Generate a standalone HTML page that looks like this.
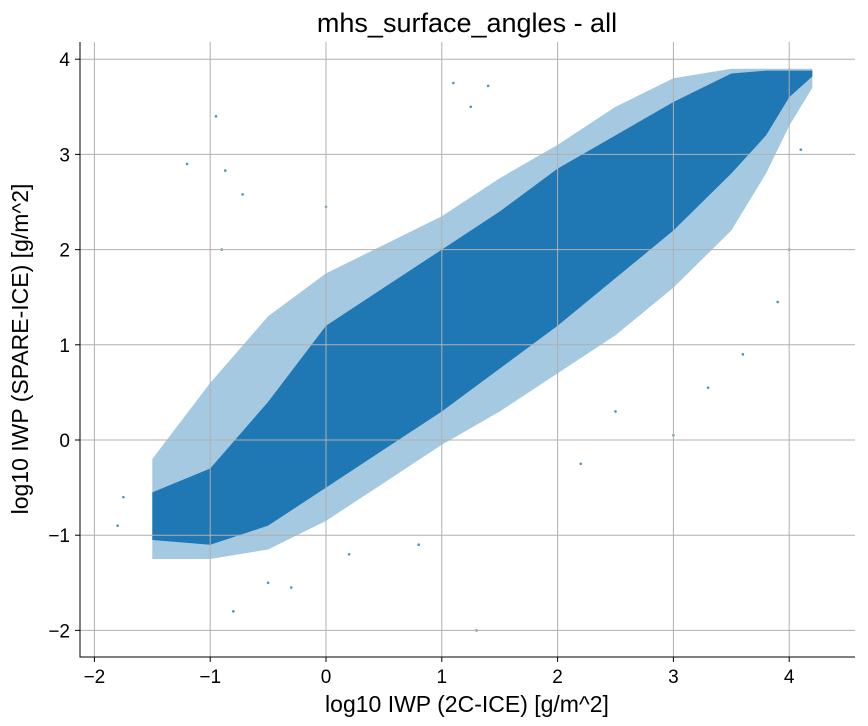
<!DOCTYPE html>
<html><head><meta charset="utf-8"><style>
body{margin:0;background:#fff;}
svg{display:block;font-family:"Liberation Sans","DejaVu Sans",sans-serif;}
</style></head><body>
<svg id="chart" width="868" height="726"></svg>
<script>
const xTicks=[-2,-1,0,1,2,3,4];
const yTicks=[-2,-1,0,1,2,3,4];
const bandX=[-1.5,-1.0,-0.5,0,0.5,1,1.5,2,2.5,3,3.5,3.8,4.0,4.2];
const coreLow=[-1.05,-1.1,-0.9,-0.5,-0.1,0.3,0.75,1.2,1.7,2.2,2.8,3.2,3.6,3.82];
const coreHigh=[-0.55,-0.3,0.4,1.2,1.6,2.0,2.4,2.85,3.2,3.55,3.85,3.88,3.88,3.88];
const haloLow=[-1.25,-1.25,-1.15,-0.85,-0.45,-0.05,0.3,0.7,1.1,1.6,2.2,2.8,3.3,3.7];
const haloHigh=[-0.2,0.6,1.3,1.75,2.05,2.35,2.75,3.1,3.5,3.8,3.9,3.9,3.9,3.9];
const outX=[-0.95,-1.2,-0.87,-0.72,1.1,1.4,1.25,3.0,3.3,2.2,1.3,-0.8,-0.3,-1.8,-1.75,0.8,4.0,3.9,4.1,0.2,-0.5,-0.9,0.0,2.5,3.6];
const outY=[3.4,2.9,2.83,2.58,3.75,3.72,3.5,0.05,0.55,-0.25,-2.0,-1.8,-1.55,-0.9,-0.6,-1.1,2.0,1.45,3.05,-1.2,-1.5,2.0,2.45,0.3,0.9];
const sx=v=>326+v*115.8;
const sy=v=>440-v*95.2;
const NS='http://www.w3.org/2000/svg';
const svg=document.getElementById('chart');
function mk(t,a,p){const e=document.createElementNS(NS,t);for(const k in a)e.setAttribute(k,a[k]);(p||svg).appendChild(e);return e;}
function band(lo,hi,fill,name){
  let pts=[];
  for(let i=0;i<bandX.length;i++)pts.push(sx(bandX[i])+','+sy(hi[i]));
  for(let i=bandX.length-1;i>=0;i--)pts.push(sx(bandX[i])+','+sy(lo[i]));
  const p=mk('polygon',{points:pts.join(' '),fill:fill});
  
  
}
band(haloLow,haloHigh,'rgba(31,119,180,0.4)','scatter-halo');
band(coreLow,coreHigh,'#1f77b4','scatter-core');
for(let i=0;i<outX.length;i++){
  const c=mk('circle',{cx:sx(outX[i]),cy:sy(outY[i]),r:1.3,fill:'#1f77b4',opacity:0.8});
  
  
}
xTicks.forEach(v=>{
  const g=mk('line',{x1:sx(v),x2:sx(v),y1:42,y2:657,stroke:'#b0b0b0','stroke-width':1});
  
  
  mk('line',{x1:sx(v),x2:sx(v),y1:657,y2:662,stroke:'#000'});
  const t=mk('text',{x:sx(v),y:683,'text-anchor':'middle','font-size':19});
  t.textContent=(v<0?'\u2212'+(-v):v);
  
  
});
yTicks.forEach(v=>{
  const g=mk('line',{x1:80,x2:855,y1:sy(v),y2:sy(v),stroke:'#b0b0b0','stroke-width':1});
  
  
  mk('line',{x1:75,x2:80,y1:sy(v),y2:sy(v),stroke:'#000'});
  const t=mk('text',{x:70,y:sy(v)+7,'text-anchor':'end','font-size':19});
  t.textContent=(v<0?'\u2212'+(-v):v);
  
  
});
</script>
<svg width="868" height="726" style="position:absolute;left:0;top:0">
<line x1="80" y1="42" x2="80" y2="657.5" stroke="#000"/>
<line x1="79.5" y1="657" x2="855" y2="657" stroke="#000"/>
<text x="467" y="32" text-anchor="middle" font-size="27" font-family="Liberation Sans, DejaVu Sans, sans-serif">mhs_surface_angles - all</text>
<text x="467" y="712" text-anchor="middle" font-size="23" font-family="Liberation Sans, DejaVu Sans, sans-serif">log10 IWP (2C-ICE) [g/m^2]</text>
<text transform="translate(28,349) rotate(-90)" text-anchor="middle" font-size="23" font-family="Liberation Sans, DejaVu Sans, sans-serif">log10 IWP (SPARE-ICE) [g/m^2]</text>
</svg>
</body></html>
